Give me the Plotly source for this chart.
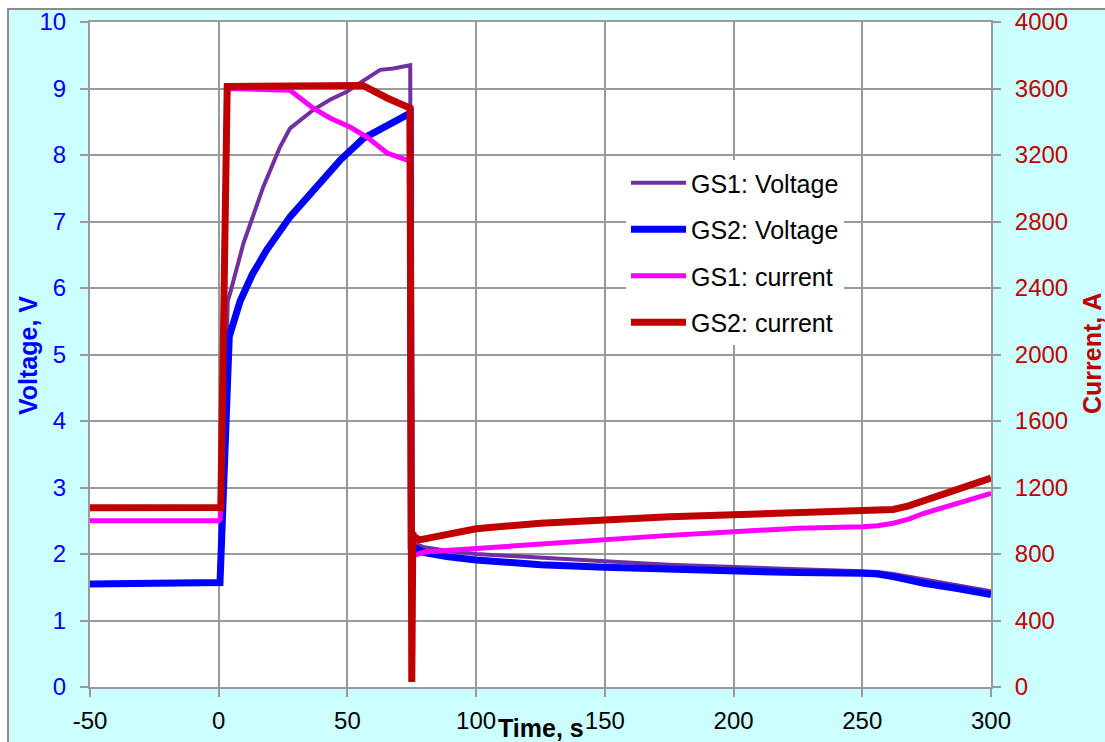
import plotly.graph_objects as go

# ---------------- data ----------------
# GS1 voltage (V, left axis)
t_gs1_v = [-50, 0, 0.6, 3.5, 4.4, 9.6, 17.3, 23.8, 27.7, 36.8, 43.2, 49.7, 55.5, 62.7, 67.8, 73.7, 74.4, 74.7,
           76.5, 80, 88.5, 100, 125, 150, 175, 200, 225, 250, 256, 262, 268, 274, 287, 300]
v_gs1 = [1.55, 1.55, 1.6, 5.8, 5.92, 6.67, 7.52, 8.12, 8.4, 8.68, 8.83, 8.95, 9.1, 9.28, 9.3, 9.35, 9.35, 2.2,
         2.15, 2.1, 2.05, 2.0, 1.94, 1.89, 1.84, 1.8, 1.77, 1.74, 1.73, 1.7, 1.66, 1.61, 1.52, 1.44]

# GS2 voltage (V, left axis)
t_gs2_v = [-50, 0, 0.5, 4.1, 6, 8.3, 13, 18.6, 27.7, 36.8, 47.1, 56.2, 65.3, 73, 74.4, 74.8,
           76.9, 80, 88.5, 100, 125, 150, 175, 200, 225, 250, 256, 262, 268, 274, 287, 300]
v_gs2 = [1.55, 1.55, 1.57, 5.27, 5.55, 5.8, 6.2, 6.57, 7.07, 7.47, 7.92, 8.25, 8.45, 8.6, 8.63, 2.1,
         2.08, 2.02, 1.96, 1.91, 1.84, 1.8, 1.77, 1.74, 1.72, 1.71, 1.7, 1.66, 1.61, 1.56, 1.48, 1.39]

# GS1 current (A, right axis)
t_gs1_i = [-50, 0, 0.6, 3.5, 27.7, 36.6, 43.2, 51, 57.6, 65.4, 73.2, 74.5, 74.9,
           76.3, 80, 100, 125, 150, 175, 200, 225, 250, 256, 262, 268, 274, 287, 300]
i_gs1 = [1000, 1000, 1010, 3600, 3590, 3483, 3423, 3368, 3308, 3212, 3170, 3165, 800,
         794, 812, 834, 862, 890, 912, 934, 955, 964, 970, 985, 1010, 1045, 1105, 1165]

# GS2 current (A, right axis)
t_gs2_i = [-50, 0.8, 3.3, 30, 56, 65.4, 74.3, 75, 75.4, 75.7, 78, 85, 90, 100, 125, 150, 175, 200, 225, 250,
           256, 262, 268, 275, 287, 300]
i_gs2 = [1078, 1080, 3612, 3615, 3618, 3543, 3483, 30, 930, 905, 885, 908, 926, 952, 985, 1008, 1024, 1036,
         1048, 1054, 1058, 1068, 1090, 1125, 1190, 1257]

x_ticks = [-50, 0, 50, 100, 150, 200, 250, 300]
x_tick_labels = ["-50", "0", "50", "100", "150", "200", "250", "300"]
series_names = ["GS1: Voltage", "GS2: Voltage", "GS1: current", "GS2: current"]
series_colors = ["#7030A0", "#0000FF", "#FF00FF", "#C00000"]

FONT = "Liberation Sans, Arial, sans-serif"
GRID = "#9a9a9a"

fig = go.Figure()
fig.add_trace(go.Scatter(x=t_gs1_v, y=v_gs1, mode="lines", name=series_names[0], legendgroup="a",
                         line=dict(color=series_colors[0], width=4)))
fig.add_trace(go.Scatter(x=t_gs2_v, y=v_gs2, mode="lines", name=series_names[1], legendgroup="b",
                         line=dict(color=series_colors[1], width=7)))
fig.add_trace(go.Scatter(x=t_gs1_i, y=i_gs1, mode="lines", name=series_names[2], legendgroup="c",
                         line=dict(color=series_colors[2], width=5), yaxis="y2"))
fig.add_trace(go.Scatter(x=t_gs2_i, y=i_gs2, mode="lines", name=series_names[3], legendgroup="d",
                         line=dict(color=series_colors[3], width=7), yaxis="y2"))

W, H = 901.0, 665.0
L, T = 90.0, 22.0


def px(xp):
    return (xp - L) / W


def py(yp):
    return (T + H - yp) / H


fig.update_layout(
    width=1105, height=742,
    margin=dict(l=90, r=114, t=22, b=55, pad=0, autoexpand=False),
    paper_bgcolor="white",
    plot_bgcolor="white",
    font=dict(family=FONT, size=24, color="black"),
    showlegend=True,
    legend=dict(x=px(626), y=py(160), xanchor="left", yanchor="top",
                bgcolor="white", borderwidth=0, font=dict(size=25, color="black", family=FONT),
                itemwidth=55, tracegroupgap=11),
    xaxis=dict(range=[-50, 300], tickvals=x_ticks, ticktext=x_tick_labels, showgrid=True,
               gridcolor=GRID, gridwidth=2, automargin=False,
               showline=True, linecolor=GRID, linewidth=2, mirror=True, zeroline=False,
               ticks="outside", ticklen=8, tickwidth=2, tickcolor=GRID, ticklabelstandoff=3,
               tickfont=dict(size=24, color="black", family=FONT)),
    yaxis=dict(range=[0, 10], dtick=1, showgrid=True, gridcolor=GRID, gridwidth=2, automargin=False,
               showline=True, linecolor=GRID, linewidth=2, zeroline=False,
               ticks="outside", ticklen=8, tickwidth=2, tickcolor=GRID, ticklabelstandoff=9,
               tickfont=dict(size=24, color="#0000FF", family=FONT)),
    yaxis2=dict(range=[0, 4000], dtick=400, overlaying="y", side="right", showgrid=False, automargin=False,
                showline=True, linecolor=GRID, linewidth=2, zeroline=False,
                ticks="outside", ticklen=8, tickwidth=2, tickcolor=GRID, ticklabelstandoff=9,
                tickfont=dict(size=24, color="#C00000", family=FONT)),
    shapes=[
        dict(type="rect", xref="paper", yref="paper", x0=px(8), x1=px(1110), y0=py(747), y1=py(9),
             fillcolor="#CCFFFF", line=dict(color="#8c8c8c", width=2), layer="below"),
        dict(type="rect", xref="paper", yref="paper", x0=0, x1=1, y0=0, y1=1,
             fillcolor="white", line=dict(width=0), layer="below"),
    ],
    annotations=[
        dict(text="<b>Voltage, V</b>", xref="paper", yref="paper", x=px(28), y=py(356),
             textangle=-90, showarrow=False, xanchor="center", yanchor="middle",
             font=dict(size=25, color="#0000FF", family=FONT)),
        dict(text="<b>Current, A</b>", xref="paper", yref="paper", x=px(1092), y=py(354),
             textangle=-90, showarrow=False, xanchor="center", yanchor="middle",
             font=dict(size=25, color="#C00000", family=FONT)),
        dict(text="<b>Time, s</b>", xref="paper", yref="paper", x=px(541), y=py(728),
             showarrow=False, xanchor="center", yanchor="middle",
             font=dict(size=25, color="black", family=FONT)),
    ],
)

fig.write_html("out.html", config={"displayModeBar": False},
               post_script="document.body.style.margin='0';document.body.style.overflow='hidden';")
